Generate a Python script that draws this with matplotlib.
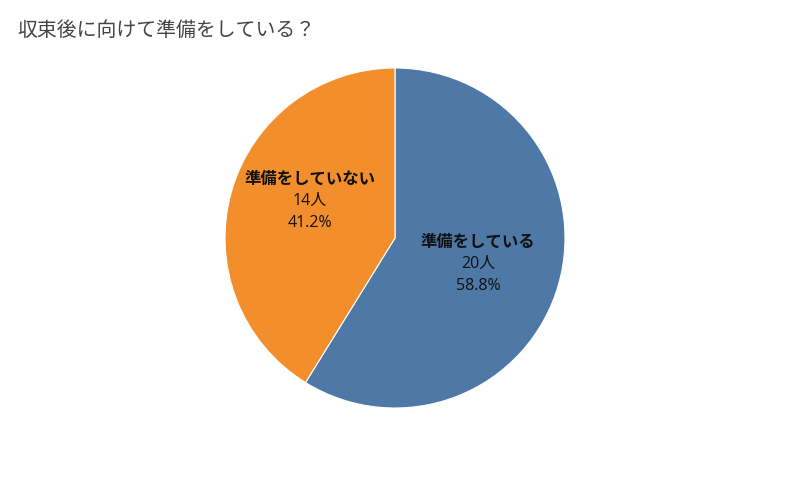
import matplotlib.pyplot as plt

plt.rcParams['font.family'] = ['Noto Sans CJK JP', 'DejaVu Sans']

title = "収束後に向けて準備をしている？"
labels = ["準備をしている", "準備をしていない"]
counts = [20, 14]
percents = [58.8, 41.2]
colors = ["#4E79A7", "#F28E2B"]
# label centres in axes data units (pie radius = 1)
label_pos = [(0.49, -0.15), (-0.50, 0.22)]

fig = plt.figure(figsize=(8, 5), dpi=100)
fig.text(17 / 800, 1 - 30 / 500, title, fontsize=14.3, color="#444444", va="center", ha="left")

ax = fig.add_axes([225 / 800, 92 / 500, 340 / 800, 340 / 500])
ax.pie(counts, colors=colors, startangle=90, counterclock=False, radius=1,
       wedgeprops=dict(linewidth=0.8, edgecolor="white"))
ax.set_xlim(-1, 1)
ax.set_ylim(-1, 1)
ax.set_aspect("equal")
ax.axis("off")

num_font = ['Open Sans', 'Noto Sans CJK JP']
dy = 22 / 170
for lab, n, p, (x, y) in zip(labels, counts, percents, label_pos):
    ax.text(x, y + dy, lab, ha="center", va="center", fontsize=11.8, fontweight="bold", color="#111111")
    ax.text(x, y, f"{n}人", ha="center", va="center", fontsize=11.5, color="#111111", family=num_font)
    ax.text(x, y - dy, f"{p}%", ha="center", va="center", fontsize=11.5, color="#111111", family=num_font)

fig.savefig("out.png", dpi=100)
